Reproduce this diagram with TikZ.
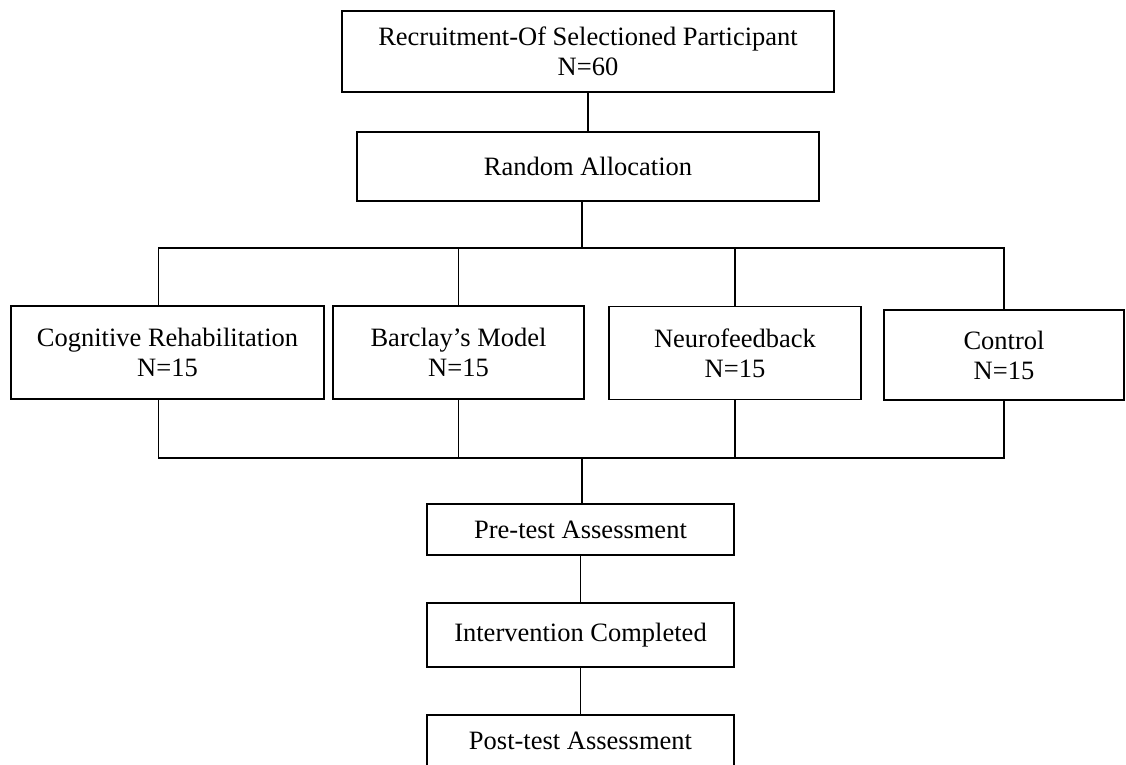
\documentclass[tikz,border=0pt]{standalone}
\usepackage{fontspec}
\setmainfont{Liberation Serif}
\usetikzlibrary{%
  arrows,%
  shapes,%
  positioning,% wg. " of "
  calc%
}

\begin{document}
\begin{tikzpicture}
[x=1pt, y=-1pt, draw=black, line width=1.2pt,
stage/.style={rectangle, draw, inner sep=0pt, align=center, font=\fontsize{26.5}{30}\selectfont},
group/.style={stage, minimum height=93pt}]

\useasboundingbox (0,0) rectangle (1126,764);

\node[stage, minimum width=492pt, minimum height=81pt] (recruit) at (588,51.5)
  {Recruitment-Of Selectioned Participant\\N=60};
\node[stage, minimum width=462pt, minimum height=69pt] (alloc) at (588,166.5) {Random Allocation}
  edge (recruit);

\coordinate (split) at (582,248);
\coordinate (merge) at (582,458);

\node[group, minimum width=313pt] (cogn) at (167.5,352.5) {Cognitive Rehabilitation\\N=15};
\node[group, minimum width=251pt] (barclay) at (458.5,352.5) {Barclay's Model\\N=15};
\node[group, minimum width=252pt] (neuro) at (735,353) {Neurofeedback\\N=15};
\node[group, minimum width=240pt, minimum height=90pt] (control) at (1004,355) {Control\\N=15};

\draw (alloc.south -| split) -- (split);
\draw (split) -| ([xshift=-9pt]cogn.north);
\draw (split) -| (barclay.north);
\draw (split) -| (neuro.north);
\draw (split) -| (control.north);

\draw ([xshift=-9pt]cogn.south) |- (merge);
\draw (barclay.south) |- (merge);
\draw (neuro.south) |- (merge);
\draw (control.south) |- (merge);

\node[stage, minimum width=307pt, minimum height=51pt] (pretest) at (580.5,529.5) {Pre-test Assessment};
\draw (merge) -- (merge |- pretest.north);
\node[stage, minimum width=307pt, minimum height=64pt] (interv) at (580.5,635) {Intervention Completed}
  edge (pretest);
\node[stage, minimum width=307pt, minimum height=52pt] (posttest) at (580.5,741) {Post-test Assessment}
  edge (interv);
\end{tikzpicture}
\end{document}
